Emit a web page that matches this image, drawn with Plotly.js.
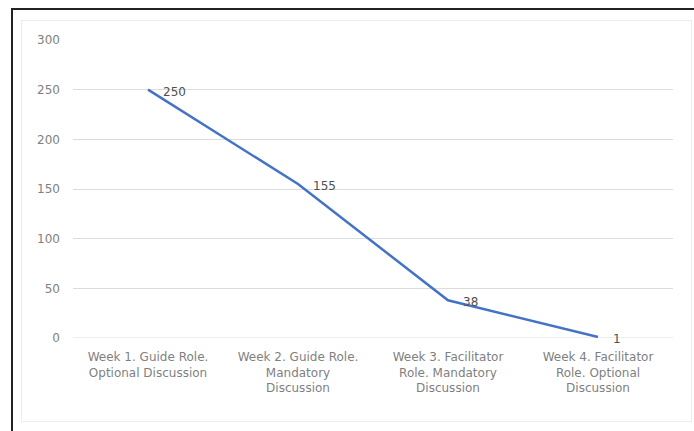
<!DOCTYPE html>
<html>
<head>
<meta charset="utf-8">
<script src="https://cdn.plot.ly/plotly-3.0.1.min.js"></script>
<style>
  html, body { margin: 0; padding: 0; background: #fff; }
  #wrap { position: relative; width: 694px; height: 431px; overflow: hidden; }
  #frame { position: absolute; left: 11px; top: 8px; width: 700px; height: 440px;
           border-left: 2px solid #222; border-top: 2px solid #222; box-sizing: border-box; pointer-events: none; }
  #inner { position: absolute; left: 21px; top: 20px; width: 671px; height: 402px;
           border: 1px solid #ececec; box-sizing: border-box; pointer-events: none; }
  #chart { position: absolute; left: 0; top: 0; width: 694px; height: 431px; }
</style>
</head>
<body>
<div id="wrap">
  <div id="chart"></div>
  <div id="inner"></div>
  <div id="frame"></div>
</div>
<script>
const categories = [
  "Week 1. Guide Role.<br>Optional Discussion",
  "Week 2. Guide Role.<br>Mandatory<br>Discussion",
  "Week 3. Facilitator<br>Role. Mandatory<br>Discussion",
  "Week 4. Facilitator<br>Role. Optional<br>Discussion"
];
const values = [250, 155, 38, 1];
const yTicks = [0, 50, 100, 150, 200, 250, 300];
const xPos = [0, 1, 2, 3];

const FONT = "'DejaVu Sans', 'Liberation Sans', sans-serif";

const trace = {
  type: "scatter",
  mode: "lines",
  x: xPos,
  y: values,
  line: { color: "#4472C4", width: 2.5 },
  hoverinfo: "none"
};

const labelAnnotations = values.map((v, i) => ({
  x: xPos[i], y: v, xref: "x", yref: "y",
  text: String(v),
  showarrow: false,
  xanchor: "left", yanchor: "middle",
  xshift: 13, yshift: -2,
  font: { family: FONT, size: 12, color: "#505050" }
}));

const layout = {
  width: 694, height: 431,
  margin: { l: 73, r: 21, t: 40, b: 93 },
  paper_bgcolor: "rgba(0,0,0,0)",
  plot_bgcolor: "rgba(0,0,0,0)",
  showlegend: false,
  font: { family: FONT, size: 12, color: "#7f7f7f" },
  xaxis: {
    range: [-0.5, 3.5],
    tickmode: "array",
    tickvals: xPos,
    ticktext: categories,
    showgrid: false,
    zeroline: false,
    showline: false,
    ticks: "",
    ticklabelstandoff: 10,
    tickfont: { family: FONT, size: 12, color: "#7f7f7f" },
    fixedrange: true
  },
  yaxis: {
    range: [0, 300],
    tickmode: "array",
    tickvals: yTicks,
    ticktext: yTicks.map(String),
    showgrid: true,
    gridcolor: "#dcdcdc",
    gridwidth: 1,
    zeroline: false,
    showline: false,
    ticks: "",
    ticklabelstandoff: 12,
    tickfont: { family: FONT, size: 12, color: "#7f7f7f" },
    fixedrange: true
  },
  annotations: labelAnnotations,
  shapes: [
    { type: "line", xref: "paper", yref: "y", x0: 0, x1: 1, y0: 0, y1: 0,
      line: { color: "#dcdcdc", width: 1 }, layer: "below" }
  ]
};

Plotly.newPlot("chart", [trace], layout, { staticPlot: true, displayModeBar: false });
</script>
</body>
</html>
